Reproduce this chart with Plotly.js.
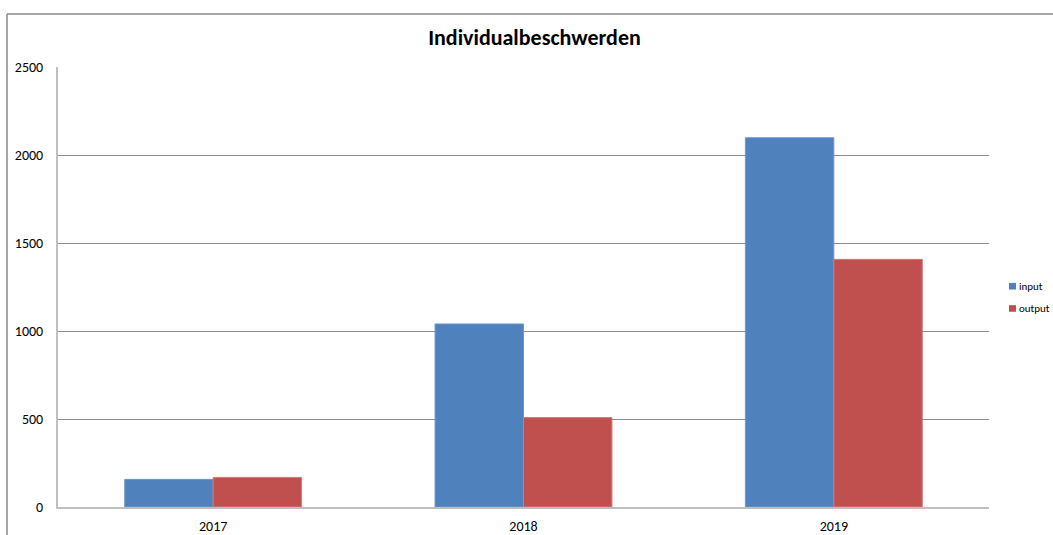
<!DOCTYPE html>
<html>
<head>
<meta charset="utf-8">
<script src="https://cdn.plot.ly/plotly-3.0.1.min.js"></script>
<style>html,body{margin:0;padding:0;background:#fff;}#chart{width:1053px;height:535px;}</style>
</head>
<body>
<div id="chart"></div>
<script>
const categories = ["2017", "2018", "2019"];
const inputValues = [157, 1040, 2098];
const outputValues = [168, 508, 1407];
const seriesNames = ["input", "output"];
const seriesColors = ["#4f81bd", "#c0504d"];
const yTicks = [0, 500, 1000, 1500, 2000, 2500];

const font = "Carlito, Calibri, 'Open Sans', 'Liberation Sans', sans-serif";

const traces = [
  {type: "bar", name: seriesNames[0], x: categories, y: inputValues,
   marker: {color: seriesColors[0], line: {color: "#6d96c9", width: 1}}},
  {type: "bar", name: seriesNames[1], x: categories, y: outputValues,
   marker: {color: seriesColors[1], line: {color: "#d27a78", width: 1}}}
];

// manual legend (Excel style: small square close to the text)
const legendY = [0.5018, 0.4512];
const legendShapes = seriesNames.map((n, i) => ({
  type: "rect", xref: "paper", yref: "paper",
  x0: 1.0215, x1: 1.0290, y0: legendY[i] - 0.0075, y1: legendY[i] + 0.0075,
  fillcolor: seriesColors[i], line: {width: 0}
}));
const legendAnn = seriesNames.map((n, i) => ({
  xref: "paper", yref: "paper", x: 1.0315, y: legendY[i], xanchor: "left", yanchor: "middle",
  text: n, showarrow: false, borderpad: 0, font: {family: font, size: 11, color: "#000"}
}));

const layout = {
  width: 1053, height: 535,
  paper_bgcolor: "#ffffff", plot_bgcolor: "#ffffff",
  margin: {l: 58, r: 64, t: 67, b: 28, pad: 0, autoexpand: false},
  font: {family: font, size: 12, color: "#000"},
  title: {text: "<b>Individualbeschwerden</b>", font: {family: font, size: 22, color: "#000"},
          x: 0.5076, xanchor: "center", xref: "container", y: 0.93, yanchor: "middle"},
  barmode: "group", bargap: 0.43, bargroupgap: 0,
  showlegend: false,
  xaxis: {type: "category", showline: true, linecolor: "#bfbfbf", linewidth: 2, showgrid: false,
          ticks: "", tickfont: {family: font, size: 14}, ticklabelstandoff: 5, zeroline: false,
          fixedrange: true},
  yaxis: {range: [0, 2500], tickvals: yTicks, ticktext: yTicks.map(String), showline: true,
          linecolor: "#bfbfbf", linewidth: 2, showgrid: true, gridcolor: "#8c8c8c", gridwidth: 1,
          ticks: "", tickfont: {family: font, size: 14}, ticklabelstandoff: 10, zeroline: false,
          fixedrange: true},
  annotations: legendAnn,
  shapes: [
    {type: "line", xref: "paper", yref: "paper", x0: -0.0548, x1: -0.0548, y0: -0.2, y1: 1.1202,
     line: {color: "#888888", width: 1.5}},
    {type: "line", xref: "paper", yref: "paper", x0: -0.0548, x1: 1.2, y0: 1.1202, y1: 1.1202,
     line: {color: "#888888", width: 1.5}}
  ].concat(legendShapes)
};

Plotly.newPlot("chart", traces, layout, {displayModeBar: false, staticPlot: true});
</script>
</body>
</html>
